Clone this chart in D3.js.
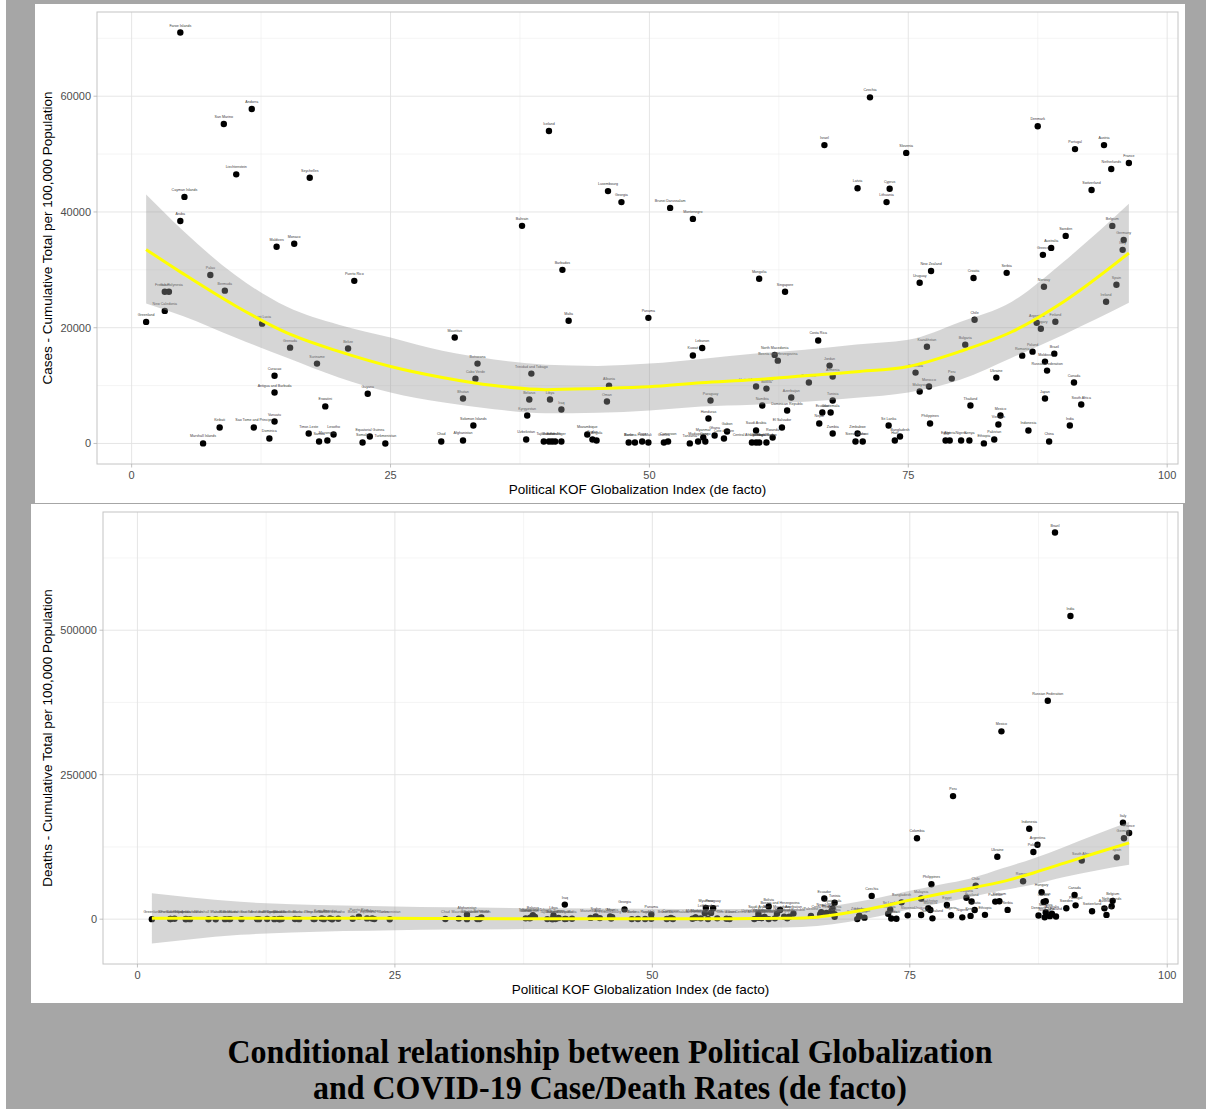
<!DOCTYPE html>
<html>
<head>
<meta charset="utf-8">
<script src="https://cdn.jsdelivr.net/npm/d3@7"></script>
<style>
  body { margin: 0; background: #ffffff; }
  svg { display: block; }
</style>
</head>
<body>
<svg id="chart" width="1206" height="1109"></svg>
<script>
// ---- data -------------------------------------------------------------
const countries = [
  "Greenland","Guam","New Caledonia","French Polynesia","Faroe Islands","Aruba","Cayman Islands",
  "Marshall Islands","Palau","Kiribati","San Marino","Bermuda","Liechtenstein","Andorra",
  "Sao Tome and Principe","Saint Lucia","Dominica","Curacao","Antigua and Barbuda","Vanuatu",
  "Maldives","Grenada","Monaco","Timor-Leste","Seychelles","Suriname","Samoa","Eswatini",
  "Micronesia","Lesotho","Belize","Puerto Rico","Somalia","Guyana","Equatorial Guinea",
  "Turkmenistan","Chad","Mauritius","Afghanistan","Bhutan","Solomon Islands","Cabo Verde",
  "Botswana","Bahrain","Uzbekistan","Kyrgyzstan","Belarus","Trinidad and Tobago","Tajikistan",
  "Iceland","Burundi","Libya","Eritrea","Yemen","Niger","Iraq","Barbados","Malta","Mozambique",
  "Sudan","Angola","Oman","Luxembourg","Albania","Georgia","Benin","Burkina Faso","Togo","Mali",
  "Panama","Guinea","Cameroon","Brunei Darussalam","Tanzania","Montenegro","Kuwait","Madagascar",
  "Lebanon","Myanmar","Congo","Honduras","Paraguay","Ghana","Cote d'Ivoire","Gabon",
  "Central African Republic","Uganda","Saudi Arabia","United Arab Emirates","Senegal","Mongolia",
  "Namibia","Bolivia","South Sudan","Rwanda","North Macedonia","Bosnia and Herzegovina",
  "El Salvador","Singapore","Dominican Republic","Azerbaijan","Palestine","Costa Rica","Nepal",
  "Ecuador","Israel","Jordan","Guatemala","Armenia","Tunisia","Zambia","Sierra Leone","Zimbabwe",
  "Latvia","Malawi","Czechia","Lithuania","Sri Lanka","Cyprus","Haiti","Bangladesh","Slovenia",
  "Colombia","Uruguay","Malaysia","Kazakhstan","Morocco","Philippines","New Zealand","Egypt",
  "Algeria","Peru","Nigeria","Bulgaria","Kenya","Thailand","Croatia","Chile","Ethiopia",
  "Pakistan","Ukraine","Vietnam","Mexico","Serbia","Romania","Indonesia","Poland","Argentina",
  "Denmark","Hungary","Greece","Norway","Moldova","Japan","Russian Federation","China",
  "Australia","Brazil","Finland","Sweden","India","Canada","Portugal","South Africa",
  "Switzerland","Austria","Ireland","Netherlands","Belgium","Spain","Italy","Germany","France"
];

const kofIndex = [
  1.4,3.2,3.2,3.6,4.7,4.7,5.1,
  6.9,7.6,8.5,8.9,9.0,10.1,11.6,
  11.8,12.6,13.3,13.8,13.8,13.8,
  14.0,15.3,15.7,17.1,17.2,17.9,18.1,18.7,
  18.9,19.5,20.9,21.5,22.3,22.8,23.0,
  24.5,29.9,31.2,32.0,32.0,33.0,33.2,
  33.4,37.7,38.1,38.2,38.4,38.6,39.8,
  40.3,40.3,40.4,40.6,40.9,41.5,41.5,41.6,42.2,44.0,
  44.5,44.9,45.9,46.0,46.1,47.3,48.0,48.6,49.3,49.9,
  49.9,51.4,51.8,52.0,53.9,54.2,54.2,54.7,
  55.1,55.2,55.4,55.7,55.9,56.3,57.2,57.5,
  59.9,60.3,60.3,60.3,60.6,60.6,
  60.9,61.3,61.3,61.9,62.1,62.4,
  62.8,63.1,63.3,63.7,65.4,66.3,66.4,
  66.7,66.9,67.4,67.5,67.7,67.7,67.7,69.9,70.1,
  70.1,70.6,71.3,72.9,73.1,73.2,73.7,74.2,74.8,
  75.7,76.1,76.1,76.8,77.0,77.1,77.2,78.6,
  79.0,79.2,80.1,80.5,80.9,81.0,81.3,81.4,82.3,
  83.3,83.5,83.7,83.9,84.5,86.0,86.6,87.0,87.4,
  87.5,87.8,88.0,88.1,88.2,88.2,88.4,88.6,
  88.8,89.1,89.2,90.2,90.6,91.0,91.1,91.7,
  92.7,93.9,94.1,94.6,94.7,95.1,95.7,95.8,96.3
];

const casesPer100k = [
  21000,26200,22900,26200,71000,38450,42600,
  10,29100,2760,55200,26400,46500,57800,
  2760,20700,860,11700,8800,3790,
  34000,16550,34500,1720,45900,13800,350,6400,
  520,1550,16400,28100,170,8600,1200,
  0,340,18300,520,7760,3100,11200,
  13800,37600,690,4830,7590,12070,340,
  54000,340,7590,340,340,340,5860,30000,21200,1550,
  690,520,7240,43600,10000,41700,170,170,340,170,
  21700,170,340,40700,10,38800,15200,340,
  16500,1030,340,4310,7410,1380,860,2070,
  170,170,2240,9830,170,28450,
  6550,9480,170,1030,15300,14310,
  2760,26200,5690,7930,10520,17800,3450,
  5340,51550,13450,5340,11550,7410,1720,340,1720,
  44100,340,59800,41700,3100,44000,520,1200,50200,
  12240,27760,8970,16720,9830,3450,29800,520,
  520,11210,520,17070,520,6550,28600,21380,10,
  690,11380,3280,4830,29480,15170,2240,15860,20860,
  54800,19830,32590,27070,14140,7760,12590,340,
  33790,15520,21030,35860,3100,10520,50860,6720,
  43800,51550,24480,47410,37590,27410,33450,35170,48450
];

const deathsTotal = [
  21,380,310,650,28,220,30,
  0,6,18,115,130,85,153,
  73,390,63,270,143,14,
  300,218,60,133,168,1390,29,1420,
  0,699,677,4200,1361,1230,183,
  0,193,1000,7700,21,153,405,
  2790,1480,1637,2991,6980,3950,125,
  153,38,6430,103,2149,310,25230,490,810,2212,
  4940,1900,4628,1100,3500,16900,163,387,290,740,
  8300,440,1965,225,846,2800,2555,1400,
  10400,19400,385,10900,18900,1450,800,305,
  113,3600,9100,2300,1968,2100,
  4030,21900,138,1459,9300,15800,
  4130,1400,4380,9700,5660,8500,11950,
  35700,10900,14070,18500,8630,28600,4000,125,5500,
  5800,2640,40300,9200,16500,1060,840,29100,6600,
  140000,7200,35700,19000,16000,60500,1400,24700,
  6875,213000,3143,37100,5650,30500,16000,58000,7500,
  30380,108000,31000,325000,16100,65700,156600,116300,128900,
  6400,46600,29900,3200,11600,31000,378000,5226,
  9600,669000,4700,19000,524700,41800,23900,101500,
  13800,18700,7400,22400,31700,107000,167000,140000,149000
];

// axis ticks and labels
const xTicks = [0, 25, 50, 75, 100];
const xMinorTicks = [12.5, 37.5, 62.5, 87.5];
const caseTicks = [0, 20000, 40000, 60000];
const caseMinorTicks = [10000, 30000, 50000, 70000];
const deathTicks = [0, 250000, 500000];
const deathMinorTicks = [125000, 375000, 625000];

// fitted loess curves with 95% band
const smoothX   = [1.4, 5, 10, 15, 20, 25, 30, 35, 40, 45, 50, 55, 60, 65, 70, 75, 80, 85, 90, 96.3];
const caseFit   = [33500, 29300, 23800, 19100, 15900, 13300, 11400, 10000, 9300, 9500, 9800, 10500, 11000, 11700, 12400, 13300, 15900, 19300, 24500, 32900];
const caseLow   = [24200, 22000, 18300, 14800, 11400, 8800, 7100, 5900, 5200, 5300, 5700, 6400, 6700, 7200, 7900, 8800, 11000, 14800, 18800, 24300];
const caseHigh  = [43000, 36700, 29100, 23600, 20500, 18300, 16000, 14500, 13600, 13400, 13800, 14600, 15500, 16200, 17100, 17900, 21000, 24500, 31400, 41400];

const deathSmoothX = [1.4, 5, 10, 15, 20, 25, 30, 40, 50, 55, 60, 63, 66, 69, 72, 75, 78, 81, 84, 87, 90, 93, 96.3];
const deathFit  = [1500, 1500, 1500, 1500, 1500, 1500, 1000, 800, 800, 800, 1000, 1500, 3500, 11000, 21000, 33000, 44000, 54000, 65000, 80000, 97000, 114000, 132000];
const deathLow  = [-42000, -35000, -27000, -23000, -20500, -19000, -18000, -17000, -16000, -15500, -15000, -14500, -12000, -5000, 5000, 17000, 28000, 39000, 50000, 60000, 73000, 84000, 94000];
const deathHigh = [45000, 38000, 30000, 26000, 23500, 22000, 20500, 19000, 18000, 17500, 17500, 17500, 19000, 27000, 37000, 49000, 60000, 71000, 88000, 105000, 125000, 146000, 168000];

const xTitle = "Political KOF Globalization Index (de facto)";
const caseTitle = "Cases - Cumulative Total per 100,000 Population";
const deathTitle = "Deaths - Cumulative Total per 100,000 Population";
const titleLines = [
  "Conditional relationship between Political Globalization",
  "and COVID-19 Case/Death Rates (de facto)"
];

// ---- drawing ----------------------------------------------------------
const svg = d3.select("#chart");
const SANS = "'Liberation Sans', Arial, Helvetica, sans-serif";

// outer frame and the two white plot sheets
svg.append("rect").attr("x", 6).attr("y", 0).attr("width", 1200).attr("height", 1109).attr("fill", "#a6a6a6");
svg.append("rect").attr("x", 35).attr("y", 4).attr("width", 1150).attr("height", 499).attr("fill", "#ffffff");
svg.append("rect").attr("x", 31).attr("y", 504).attr("width", 1152).attr("height", 499).attr("fill", "#ffffff");

function expandDomain(lo, hi) {
  const pad = (hi - lo) * 0.05;
  return [lo - pad, hi + pad];
}

function drawPanel(cfg) {
  const g = svg.append("g");
  const x = d3.scaleLinear().domain(cfg.xDomain).range([cfg.left, cfg.right]);
  const y = d3.scaleLinear().domain(cfg.yDomain).range([cfg.bottom, cfg.top]);

  // minor grid
  g.selectAll(".xminor").data(xMinorTicks).join("line")
    .attr("x1", d => x(d)).attr("x2", d => x(d)).attr("y1", cfg.top).attr("y2", cfg.bottom)
    .attr("stroke", "#efefef").attr("stroke-width", 0.6);
  g.selectAll(".yminor").data(cfg.yMinor.filter(v => y(v) > cfg.top)).join("line")
    .attr("x1", cfg.left).attr("x2", cfg.right).attr("y1", d => y(d)).attr("y2", d => y(d))
    .attr("stroke", "#efefef").attr("stroke-width", 0.6);
  // major grid
  g.selectAll(".xmajor").data(xTicks).join("line")
    .attr("x1", d => x(d)).attr("x2", d => x(d)).attr("y1", cfg.top).attr("y2", cfg.bottom)
    .attr("stroke", "#e2e2e2").attr("stroke-width", 0.9);
  g.selectAll(".ymajor").data(cfg.yTicks).join("line")
    .attr("x1", cfg.left).attr("x2", cfg.right).attr("y1", d => y(d)).attr("y2", d => y(d))
    .attr("stroke", "#e2e2e2").attr("stroke-width", 0.9);

  // points
  const pts = countries.map((c, i) => ({ name: c, kx: kofIndex[i], v: cfg.values[i] }));
  g.selectAll(".pt").data(pts).join("circle")
    .attr("cx", d => x(d.kx)).attr("cy", d => y(d.v)).attr("r", 3.2).attr("fill", "#000000");
  g.selectAll(".lbl").data(pts).join("text")
    .attr("x", d => x(d.kx)).attr("y", d => y(d.v) - 6)
    .attr("text-anchor", "middle").attr("font-family", SANS).attr("font-size", 3.6)
    .attr("fill", "#3a3a3a").text(d => d.name);

  // loess band and fit
  const sm = cfg.smoothX.map((sx, i) => ({ sx, fit: cfg.fit[i], lo: cfg.lo[i], hi: cfg.hi[i] }));
  g.append("path").datum(sm)
    .attr("d", d3.area().x(d => x(d.sx)).y0(d => y(d.lo)).y1(d => y(d.hi)).curve(d3.curveMonotoneX))
    .attr("fill", "#999999").attr("fill-opacity", 0.4);
  g.append("path").datum(sm)
    .attr("d", d3.line().x(d => x(d.sx)).y(d => y(d.fit)).curve(d3.curveMonotoneX))
    .attr("fill", "none").attr("stroke", "#ffff00").attr("stroke-width", 3);

  // panel border
  g.append("rect").attr("x", cfg.left).attr("y", cfg.top)
    .attr("width", cfg.right - cfg.left).attr("height", cfg.bottom - cfg.top)
    .attr("fill", "none").attr("stroke", "#c4c4c4").attr("stroke-width", 1);

  // axis ticks and labels
  g.selectAll(".xt").data(xTicks).join("line")
    .attr("x1", d => x(d)).attr("x2", d => x(d)).attr("y1", cfg.bottom).attr("y2", cfg.bottom + 3.5)
    .attr("stroke", "#b3b3b3").attr("stroke-width", 0.8);
  g.selectAll(".xl").data(xTicks).join("text")
    .attr("x", d => x(d)).attr("y", cfg.bottom + 11).attr("dy", "0.35em")
    .attr("text-anchor", "middle").attr("font-family", SANS).attr("font-size", 11)
    .attr("fill", "#4d4d4d").text(d => d);
  g.selectAll(".yt").data(cfg.yTicks).join("line")
    .attr("x1", cfg.left - 3.5).attr("x2", cfg.left).attr("y1", d => y(d)).attr("y2", d => y(d))
    .attr("stroke", "#b3b3b3").attr("stroke-width", 0.8);
  g.selectAll(".yl").data(cfg.yTicks).join("text")
    .attr("x", cfg.left - 6).attr("y", d => y(d)).attr("dy", "0.35em")
    .attr("text-anchor", "end").attr("font-family", SANS).attr("font-size", 11)
    .attr("fill", "#4d4d4d").text(d => d);

  // axis titles
  g.append("text").attr("x", (cfg.left + cfg.right) / 2).attr("y", cfg.bottom + 25).attr("dy", "0.35em")
    .attr("text-anchor", "middle").attr("font-family", SANS).attr("font-size", 13.5)
    .attr("fill", "#000000").text(xTitle);
  g.append("text")
    .attr("transform", `translate(${cfg.yTitleX},${(cfg.top + cfg.bottom) / 2}) rotate(-90)`)
    .attr("dy", "0.35em").attr("text-anchor", "middle").attr("font-family", SANS)
    .attr("font-size", 13.5).attr("fill", "#000000").text(cfg.yTitle);
}

const xDom = expandDomain(d3.min(kofIndex), d3.max(kofIndex));

drawPanel({
  left: 97, right: 1178, top: 12, bottom: 464, yTitleX: 47,
  xDomain: xDom,
  yDomain: expandDomain(Math.min(d3.min(casesPer100k), d3.min(caseLow)), Math.max(d3.max(casesPer100k), d3.max(caseHigh))),
  values: casesPer100k, yTicks: caseTicks, yMinor: caseMinorTicks, yTitle: caseTitle,
  smoothX: smoothX, fit: caseFit, lo: caseLow, hi: caseHigh
});

drawPanel({
  left: 103, right: 1178, top: 512, bottom: 964, yTitleX: 47,
  xDomain: xDom,
  yDomain: expandDomain(Math.min(d3.min(deathsTotal), d3.min(deathLow)), Math.max(d3.max(deathsTotal), d3.max(deathHigh))),
  values: deathsTotal, yTicks: deathTicks, yMinor: deathMinorTicks, yTitle: deathTitle,
  smoothX: deathSmoothX, fit: deathFit, lo: deathLow, hi: deathHigh
});

// caption, two centred bold serif lines in a narrow cut
const captionWidths = [765, 594];
svg.selectAll(".caption").data(titleLines).join("text")
  .attr("x", 610).attr("y", (d, i) => 1063 + i * 36)
  .attr("text-anchor", "middle")
  .attr("font-family", "'Liberation Serif', 'Times New Roman', serif")
  .attr("font-weight", "bold").attr("font-size", 33).attr("fill", "#000000")
  .attr("textLength", (d, i) => captionWidths[i]).attr("lengthAdjust", "spacingAndGlyphs")
  .text(d => d);
</script>
</body>
</html>
